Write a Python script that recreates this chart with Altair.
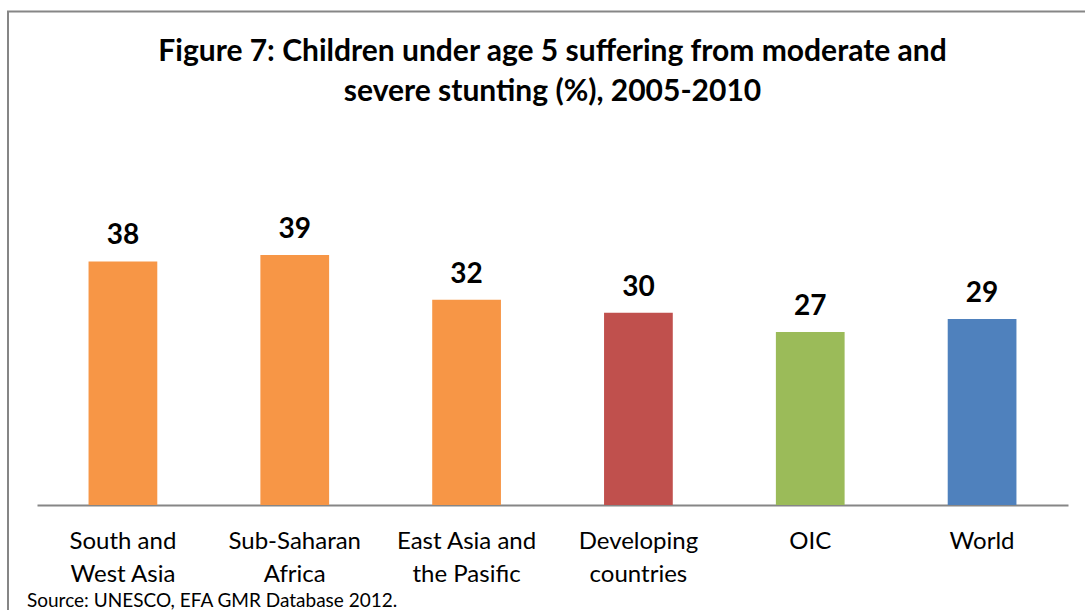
import altair as alt
import pandas as pd

# Stunting prevalence (%) among children under 5, 2005-2010
regions = [
    "South and\nWest Asia",
    "Sub-Saharan\nAfrica",
    "East Asia and\nthe Pasific",
    "Developing\ncountries",
    "OIC",
    "World",
]
stunting = [38, 39, 32, 30, 27, 29]
bar_colors = ["#F79646", "#F79646", "#F79646", "#C0504D", "#9BBB59", "#4F81BD"]

df = pd.DataFrame({"region": regions, "value": stunting, "color": bar_colors})

FONT = "Lato"
W, H = 1031, 288.5
TOP, LEFT = 216.5, 37

x_enc = alt.X(
    "region:N",
    sort=regions,
    scale=alt.Scale(paddingInner=0.6, paddingOuter=0.3),
    axis=alt.Axis(
        title=None,
        labelAngle=0,
        ticks=False,
        domainColor="#868686",
        domainWidth=2,
        labelFont=FONT,
        labelFontSize=24,
        labelColor="#000000",
        labelPadding=24,
        labelLineHeight=33,
        labelExpr="split(datum.label, '\\n')",
        labelBaseline="top",
    ),
)
y_enc = alt.Y("value:Q", scale=alt.Scale(domain=[0, 45]), axis=None)

base = alt.Chart(df).encode(x=x_enc, y=y_enc)

bars = base.mark_bar().encode(color=alt.Color("color:N", scale=None, legend=None))

labels = base.mark_text(
    font=FONT, fontSize=28, fontWeight="bold", color="#000000", dy=-17, baseline="alphabetic"
).encode(text=alt.Text("value:Q"))

frame = alt.Chart(pd.DataFrame({"k": [0]})).mark_rect(
    fill=None, stroke="#868686", strokeWidth=2
).encode(
    x=alt.value(-LEFT + 8), x2=alt.value(W + 100),
    y=alt.value(-TOP + 11.5), y2=alt.value(H + 200),
)

source = alt.Chart(pd.DataFrame({"t": ["Source: UNESCO, EFA GMR Database 2012."]})).mark_text(
    font=FONT, fontSize=19, align="left", baseline="alphabetic", color="#000000"
).encode(text="t:N", x=alt.value(-LEFT + 27), y=alt.value(H + 102))

chart = alt.layer(frame, bars, labels, source).properties(
    width=W,
    height=H,
    background="#FFFFFF",
    padding={"left": LEFT, "top": TOP, "right": 17, "bottom": 610 - TOP - H},
    autosize=alt.AutoSizeParams(type="none"),
    title=alt.TitleParams(
        text=["Figure 7: Children under age 5 suffering from moderate and",
              "severe stunting (%), 2005-2010"],
        font=FONT, fontSize=30, fontWeight="bold", color="#000000",
        anchor="middle", frame="group", lineHeight=40, offset=-96,
    ),
).configure_view(stroke="transparent", strokeWidth=0)

chart.save("out.html", embed_options={"renderer": "svg", "actions": False})
